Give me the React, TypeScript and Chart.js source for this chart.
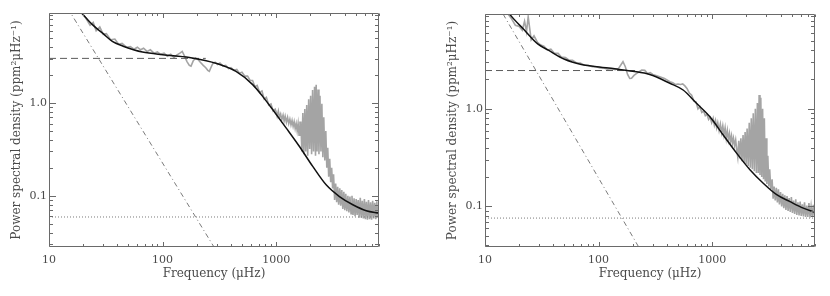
import React, { useEffect, useRef } from "react";
import { Chart, registerables } from "chart.js";

Chart.register(...registerables);

// ---------- axes ----------
const FREQ_MIN = 10;
const FREQ_MAX = 8040;
const X_TICK_VALUES = [10, 100, 1000];
const X_TICK_LABELS = ["10", "100", "1000"];
const Y_TICK_VALUES = [0.1, 1];
const Y_TICK_LABELS = ["0.1", "1.0"];
const X_TITLE = "Frequency (\u03bcHz)";
const Y_TITLE = "Power spectral density (ppm\u00b2\u03bcHz\u207b\u00b9)";

// ---------- left panel ----------
const L_Y_MIN = 0.028;
const L_Y_MAX = 9.35;
const L_SPEC_FREQ = [
  19, 21, 23, 24.5, 26, 28, 30, 32, 35, 38, 41, 44, 48, 52, 56, 60, 64, 68, 73, 78, 84, 90, 96, 103,
  110, 118, 126, 134, 142, 149, 156, 164, 172, 178, 186, 195, 205, 215, 228, 240, 250, 258, 266, 276,
  290, 305, 320, 340, 360, 380, 400, 425, 450, 475, 500, 530, 560, 590, 620, 650, 680, 715, 750, 785,
  820, 860, 900, 940, 980,
  1000, 1020, 1045, 1070, 1095, 1120, 1150, 1175, 1200, 1230, 1260, 1290, 1320, 1350, 1380, 1410,
  1440, 1470, 1500, 1530, 1560, 1590, 1620,
  1650, 1683, 1717, 1751, 1786, 1822, 1858, 1895, 1933, 1972, 2011, 2051, 2092, 2134, 2177, 2220,
  2250, 2290, 2335, 2380, 2430, 2478, 2525, 2575, 2625, 2680, 2735, 2790, 2845, 2900, 2960, 3020,
  3080, 3140, 3200,
  3270, 3340, 3410, 3480, 3550, 3630, 3700, 3780, 3860, 3940, 4020, 4100, 4190, 4280, 4370, 4460,
  4560, 4650, 4750, 4850, 4950, 5060, 5160, 5270, 5380, 5500, 5610, 5730, 5850, 5980, 6100, 6230,
  6360, 6500, 6640, 6780, 6920, 7070, 7220, 7370, 7530, 7690, 7850, 8040,
];
const L_SPEC_PSD = [
  9.6, 8.3, 6.9, 7.4, 6.0, 6.6, 5.5, 5.6, 4.8, 4.9, 4.3, 4.4, 4.0, 4.05, 3.8, 4.0, 3.75, 3.9, 3.6, 3.75,
  3.45, 3.55, 3.35, 3.45, 3.2, 3.35, 3.1, 3.3, 3.45, 3.6, 3.2, 2.8, 2.55, 2.5, 2.85, 3.05, 2.95, 2.75,
  2.55, 2.4, 2.25, 2.2, 2.4, 2.65, 2.75, 2.6, 2.7, 2.5, 2.55, 2.35, 2.4, 2.25, 2.3, 2.1, 2.15, 1.95,
  1.95, 1.75, 1.75, 1.5, 1.55, 1.3, 1.35, 1.1, 1.15, 0.95, 0.98, 0.82, 0.86,
  0.8, 0.72, 0.82, 0.7, 0.76, 0.66, 0.74, 0.64, 0.72, 0.62, 0.7, 0.6, 0.67, 0.58, 0.65, 0.56, 0.63,
  0.53, 0.6, 0.5, 0.6, 0.45, 0.62,
  0.62, 0.3, 0.78, 0.28, 0.86, 0.3, 0.95, 0.27, 1.1, 0.32, 1.2, 0.28, 1.38, 0.3, 1.5, 0.27, 1.57,
  0.3, 1.4, 0.28, 1.2, 0.3, 0.98, 0.26, 0.7, 0.24, 0.5, 0.2, 0.33, 0.16, 0.25, 0.14, 0.2, 0.12, 0.17,
  0.09, 0.135, 0.085, 0.125, 0.08, 0.12, 0.078, 0.115, 0.072, 0.11, 0.07, 0.105, 0.068, 0.1, 0.066,
  0.098, 0.064, 0.1, 0.062, 0.094, 0.06, 0.092, 0.062, 0.09, 0.058, 0.095, 0.058, 0.088, 0.057, 0.092,
  0.056, 0.086, 0.055, 0.09, 0.056, 0.085, 0.055, 0.088, 0.057, 0.084, 0.056, 0.087, 0.058, 0.08,
];
const L_FIT_FREQ = [17, 19.4, 24.1, 30, 36.1, 45, 55.4, 66.5, 100, 172, 305, 443, 621, 760, 931, 1222, 1603, 2099, 2754, 3606, 4730, 6207, 8040];
const L_FIT_PSD = [11.2, 9.36, 7.0, 5.6, 4.62, 4.1, 3.76, 3.55, 3.32, 3.1, 2.65, 2.19, 1.58, 1.18, 0.85, 0.54, 0.34, 0.207, 0.131, 0.098, 0.08, 0.069, 0.065];
const L_HARVEY_FREQ = [10, 240];
const L_HARVEY_PSD = [3.03, 3.03];
const L_WHITE_FREQ = [10, 8040];
const L_WHITE_PSD = [0.059, 0.059];
const L_POWER_FREQ = [10, 300];
const L_POWER_PSD = [22.5, 0.025];

// ---------- right panel ----------
const R_Y_MIN = 0.0384;
const R_Y_MAX = 9.38;
const R_SPEC_FREQ = [
  15.5, 17, 18.5, 20, 21.3, 22.3, 23.2, 24, 25.5, 27, 29, 31, 33, 35.5, 38, 41, 44, 47, 51, 55, 59, 64,
  69, 75, 81, 88, 95, 103, 111, 120, 130, 140, 150, 158, 164, 172, 180, 188, 195, 205, 215, 228, 240,
  255, 270, 285, 300, 320,
  340, 360, 380, 400, 425, 450, 475, 500, 525, 550, 575, 600, 630, 660, 690, 720, 750, 780, 810, 840,
  870, 900, 930, 960, 990,
  1020, 1045, 1070, 1095, 1120, 1150, 1180, 1210, 1240, 1270, 1300, 1330, 1360, 1390, 1420, 1450,
  1480, 1510, 1540, 1575, 1610, 1645,
  1680, 1715, 1750, 1790, 1830, 1870, 1910, 1950, 1990, 2030, 2075, 2120, 2165, 2210, 2255, 2300,
  2350, 2400, 2450, 2500, 2545, 2590, 2635, 2680, 2730, 2780, 2830, 2880, 2930, 2980, 3030, 3090,
  3150, 3210, 3280,
  3370, 3440, 3510, 3590, 3670, 3750, 3830, 3910, 4000, 4090, 4180, 4270, 4360, 4460, 4560, 4660,
  4760, 4870, 4980, 5090, 5200, 5320, 5440, 5560, 5690, 5820, 5950, 6080, 6220, 6360, 6500, 6650,
  6800, 6950, 7110, 7270, 7430, 7600, 7770, 7940, 8040,
];
const R_SPEC_PSD = [
  9.8, 8.5, 7.2, 7.0, 6.4, 7.9, 6.2, 8.8, 5.1, 5.6, 4.8, 4.5, 4.4, 4.0, 4.1, 3.7, 3.7, 3.4, 3.35, 3.15,
  3.15, 2.95, 2.95, 2.8, 2.8, 2.7, 2.7, 2.62, 2.62, 2.55, 2.58, 2.52, 2.6, 2.85, 3.05, 2.7, 2.25, 2.05,
  2.06, 2.2, 2.3, 2.4, 2.5, 2.48, 2.3, 2.35, 2.25, 2.2,
  2.15, 2.1, 2.05, 1.98, 1.9, 1.85, 1.78, 1.8, 1.78, 1.8, 1.72, 1.62, 1.45, 1.38, 1.2, 1.18, 1.0, 1.05,
  0.92, 0.95, 0.85, 0.88, 0.78, 0.82, 0.72,
  0.8, 0.68, 0.76, 0.64, 0.72, 0.6, 0.7, 0.57, 0.67, 0.54, 0.64, 0.5, 0.6, 0.48, 0.56, 0.46, 0.53,
  0.44, 0.5, 0.42, 0.48, 0.38,
  0.32, 0.47, 0.31, 0.5, 0.29, 0.54, 0.28, 0.58, 0.27, 0.63, 0.26, 0.72, 0.25, 0.8, 0.24, 0.9, 0.23,
  1.0, 0.22, 1.15, 0.22, 1.39, 0.21, 1.3, 0.2, 1.0, 0.19, 0.8, 0.18, 0.5, 0.17, 0.33, 0.16, 0.24, 0.15,
  0.19, 0.12, 0.16, 0.115, 0.155, 0.11, 0.15, 0.105, 0.14, 0.1, 0.135, 0.096, 0.13, 0.092, 0.128,
  0.09, 0.122, 0.088, 0.125, 0.086, 0.115, 0.084, 0.118, 0.082, 0.11, 0.081, 0.112, 0.08, 0.105,
  0.079, 0.11, 0.078, 0.102, 0.078, 0.108, 0.077, 0.1, 0.078, 0.104, 0.079, 0.095,
];
const R_FIT_FREQ = [15, 16.4, 22, 29.3, 35.8, 50.2, 70.5, 92.5, 139, 200, 282, 424, 555, 728, 955, 1251, 1640, 2150, 2816, 3696, 4842, 6350, 8040];
const R_FIT_PSD = [11.0, 9.4, 6.5, 4.6, 4.02, 3.22, 2.85, 2.72, 2.57, 2.43, 2.25, 1.83, 1.56, 1.14, 0.83, 0.54, 0.352, 0.238, 0.173, 0.132, 0.112, 0.096, 0.087];
const R_HARVEY_FREQ = [10, 220];
const R_HARVEY_PSD = [2.47, 2.47];
const R_WHITE_FREQ = [10, 8040];
const R_WHITE_PSD = [0.076, 0.076];
const R_POWER_FREQ = [10, 300];
const R_POWER_PSD = [19.5, 0.0217];

// ---------- styles ----------
const TEXT_COLOR = "#4a4a4a";
const FRAME_COLOR = "#6a6a6a";
const SPEC_COLOR = "#a4a4a4";
const FIT_COLOR = "#111111";
const FONT_FAMILY = "'DejaVu Serif', serif";

const pts = (fx: number[], fy: number[]) => fx.map((f, i) => ({ x: f, y: fy[i] }));

function logTickSets(min: number, max: number) {
  const majors: number[] = [];
  const minors: number[] = [];
  for (let e = -3; e <= 5; e++) {
    const b = Math.pow(10, e);
    if (b >= min * 0.9999 && b <= max * 1.0001) majors.push(b);
    for (let m = 2; m <= 9; m++) {
      const v = m * b;
      if (v >= min && v <= max) minors.push(v);
    }
  }
  return { majors, minors };
}

const frameTicksPlugin = {
  id: "frameTicks",
  afterDatasetsDraw(chart: any) {
    const { ctx, chartArea: a, scales } = chart;
    const xs = scales.x;
    const ys = scales.y;
    const L = Math.round(a.left) + 0.5;
    const R = Math.round(a.right) - 0.5;
    const T = Math.round(a.top) + 0.5;
    const B = Math.round(a.bottom) - 0.5;
    ctx.save();
    ctx.strokeStyle = FRAME_COLOR;
    ctx.lineWidth = 1;
    ctx.setLineDash([]);
    ctx.beginPath();
    ctx.rect(L, T, R - L, B - T);
    const xt = logTickSets(xs.min, xs.max);
    const drawX = (v: number, len: number) => {
      const px = Math.round(xs.getPixelForValue(v)) + 0.5;
      ctx.moveTo(px, B);
      ctx.lineTo(px, B - len);
      ctx.moveTo(px, T);
      ctx.lineTo(px, T + len);
    };
    xt.majors.forEach((v) => drawX(v, 4.5));
    xt.minors.forEach((v) => drawX(v, 2.5));
    const yt = logTickSets(ys.min, ys.max);
    const drawY = (v: number, len: number) => {
      const py = Math.round(ys.getPixelForValue(v)) + 0.5;
      ctx.moveTo(L, py);
      ctx.lineTo(L + len, py);
      ctx.moveTo(R, py);
      ctx.lineTo(R - len, py);
    };
    yt.majors.forEach((v) => drawY(v, 6.5));
    yt.minors.forEach((v) => drawY(v, 3.5));
    ctx.stroke();
    ctx.restore();
  },
};

type PanelProps = {
  offset: number;
  padLeft: number;
  padRight: number;
  padTop: number;
  yMin: number;
  yMax: number;
  specF: number[];
  specP: number[];
  fitF: number[];
  fitP: number[];
  harvF: number[];
  harvP: number[];
  whiteF: number[];
  whiteP: number[];
  powF: number[];
  powP: number[];
};

function Panel(p: PanelProps) {
  const ref = useRef<HTMLCanvasElement>(null);
  useEffect(() => {
    if (!ref.current) return;
    const tickFont = { family: FONT_FAMILY, size: 11 };
    const titleFont = { family: FONT_FAMILY, size: 12 };
    const chart = new Chart(ref.current, {
      type: "line",
      data: {
        datasets: [
          {
            data: pts(p.specF, p.specP),
            borderColor: SPEC_COLOR,
            borderWidth: 1.6,
            pointRadius: 0,
            tension: 0,
            clip: 0,
            order: 5,
          },
          {
            data: pts(p.whiteF, p.whiteP),
            borderColor: "#7a7a7a",
            borderWidth: 1,
            borderDash: [1, 2],
            pointRadius: 0,
            clip: 0,
            order: 4,
          },
          {
            data: pts(p.powF, p.powP),
            borderColor: "#7a7a7a",
            borderWidth: 1,
            borderDash: [5, 3, 1, 3],
            pointRadius: 0,
            clip: 0,
            order: 3,
          },
          {
            data: pts(p.harvF, p.harvP),
            borderColor: "#5a5a5a",
            borderWidth: 1,
            borderDash: [7, 4],
            pointRadius: 0,
            clip: 0,
            order: 2,
          },
          {
            data: pts(p.fitF, p.fitP),
            borderColor: FIT_COLOR,
            borderWidth: 1.5,
            pointRadius: 0,
            cubicInterpolationMode: "monotone",
            clip: 0,
            order: 1,
          },
        ] as any,
      },
      options: {
        animation: false,
        responsive: false,
        devicePixelRatio: 1,
        events: [],
        layout: { padding: { left: p.padLeft, right: p.padRight, top: p.padTop, bottom: 0 } },
        plugins: { legend: { display: false }, tooltip: { enabled: false } },
        scales: {
          x: {
            type: "logarithmic",
            min: FREQ_MIN,
            max: FREQ_MAX,
            position: "bottom",
            afterFit: (s: any) => {
              s.height = 49;
            },
            afterBuildTicks: (s: any) => {
              s.ticks = X_TICK_VALUES.map((v) => ({ value: v }));
            },
            ticks: {
              autoSkip: false,
              maxRotation: 0,
              padding: 7,
              color: TEXT_COLOR,
              font: tickFont,
              callback: (_v: any, i: number) => X_TICK_LABELS[i],
            },
            grid: { display: false, drawTicks: false },
            border: { display: false },
            title: {
              display: true,
              text: X_TITLE,
              color: TEXT_COLOR,
              font: titleFont,
              padding: { top: 0, bottom: 15 },
            },
          },
          y: {
            type: "logarithmic",
            min: p.yMin,
            max: p.yMax,
            position: "left",
            afterFit: (s: any) => {
              s.width = 49;
            },
            afterBuildTicks: (s: any) => {
              s.ticks = Y_TICK_VALUES.map((v) => ({ value: v }));
            },
            ticks: {
              autoSkip: false,
              padding: 2,
              color: TEXT_COLOR,
              font: tickFont,
              callback: (_v: any, i: number) => Y_TICK_LABELS[i],
            },
            grid: { display: false, drawTicks: false },
            border: { display: false },
            title: {
              display: true,
              text: Y_TITLE,
              color: TEXT_COLOR,
              font: titleFont,
              padding: { top: 10, bottom: 0 },
            },
          },
        },
      } as any,
      plugins: [frameTicksPlugin],
    });
    return () => chart.destroy();
  }, []);
  return (
    <canvas
      ref={ref}
      width={415}
      height={296}
      style={{ position: "absolute", left: p.offset, top: 0, width: 415, height: 296 }}
    />
  );
}

export default function App() {
  return (
    <div style={{ position: "absolute", left: 0, top: 0, width: 830, height: 296, background: "#ffffff" }}>
      <Panel
        offset={0}
        padLeft={0}
        padRight={36}
        padTop={13}
        yMin={L_Y_MIN}
        yMax={L_Y_MAX}
        specF={L_SPEC_FREQ}
        specP={L_SPEC_PSD}
        fitF={L_FIT_FREQ}
        fitP={L_FIT_PSD}
        harvF={L_HARVEY_FREQ}
        harvP={L_HARVEY_PSD}
        whiteF={L_WHITE_FREQ}
        whiteP={L_WHITE_PSD}
        powF={L_POWER_FREQ}
        powP={L_POWER_PSD}
      />
      <Panel
        offset={415}
        padLeft={21}
        padRight={15}
        padTop={14}
        yMin={R_Y_MIN}
        yMax={R_Y_MAX}
        specF={R_SPEC_FREQ}
        specP={R_SPEC_PSD}
        fitF={R_FIT_FREQ}
        fitP={R_FIT_PSD}
        harvF={R_HARVEY_FREQ}
        harvP={R_HARVEY_PSD}
        whiteF={R_WHITE_FREQ}
        whiteP={R_WHITE_PSD}
        powF={R_POWER_FREQ}
        powP={R_POWER_PSD}
      />
    </div>
  );
}
